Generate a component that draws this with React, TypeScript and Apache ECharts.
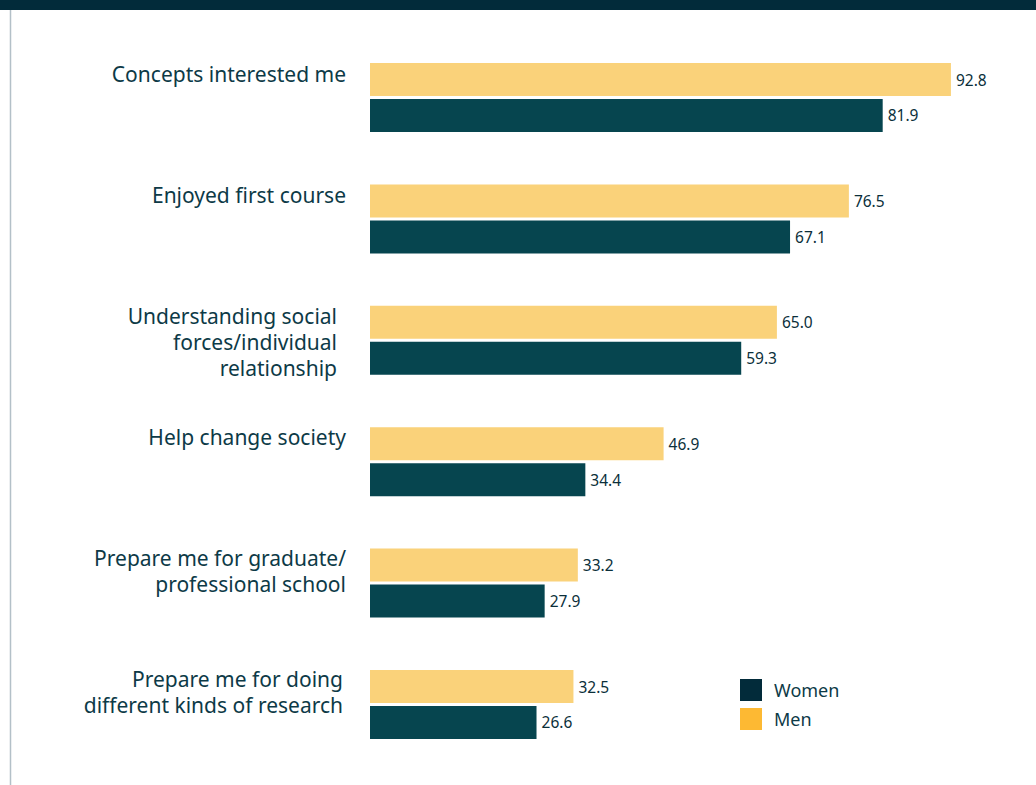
import React, { useEffect, useRef } from "react";
import * as echarts from "echarts";

const categories = [
  "Concepts interested me",
  "Enjoyed first course",
  "Understanding social\nforces/individual\nrelationship",
  "Help change society",
  "Prepare me for graduate/\nprofessional school",
  "Prepare me for doing\ndifferent kinds of research",
];
const menValues = [92.8, 76.5, 65.0, 46.9, 33.2, 32.5];
const womenValues = [81.9, 67.1, 59.3, 34.4, 27.9, 26.6];

const TEXT = "#0D3A47";
const FONT = "'Noto Sans', 'Open Sans', sans-serif";

export default function App() {
  const ref = useRef<HTMLDivElement>(null);
  useEffect(() => {
    if (!ref.current) return;
    const chart = echarts.init(ref.current, undefined, { renderer: "svg" });
    const gridTop = 36.8;
    const gridH = 728.4;
    const labelStyle = {
      show: true,
      position: "right",
      distance: 5,
      fontSize: 15.5,
      color: "#0B2F3A",
      fontFamily: FONT,
      formatter: (p: any) => Number(p.value).toFixed(1),
    };
    chart.setOption({
      animation: false,
      textStyle: { fontFamily: FONT },
      graphic: [
        { type: "rect", shape: { x: 0, y: 0, width: 1036, height: 10 }, style: { fill: "#022B3A" } },
        { type: "line", shape: { x1: 10.5, y1: 10, x2: 10.5, y2: 785 }, style: { stroke: "#B3C0C8", lineWidth: 1.5 } },
      ],
      legend: {
        orient: "vertical",
        left: 740,
        top: 679,
        padding: 0,
        itemWidth: 22,
        itemHeight: 22,
        itemGap: 7,
        icon: "rect",
        textStyle: { fontSize: 18, color: TEXT, fontFamily: FONT, padding: [0, 0, 0, 7], lineHeight: 22 },
        data: [
          { name: "Women", itemStyle: { color: "#022B3A" } },
          { name: "Men", itemStyle: { color: "#FDB933" } },
        ],
      },
      grid: [
        { left: 370, width: 626, top: gridTop, height: gridH, containLabel: false },
        { left: 370, width: 626, top: -2, height: gridH, containLabel: false },
      ],
      xAxis: [
        { type: "value", min: 0, max: 100, show: false, gridIndex: 0 },
        { type: "value", min: 0, max: 100, show: false, gridIndex: 1 },
      ],
      yAxis: [
        {
          type: "category",
          data: categories,
          inverse: true,
          gridIndex: 0,
          axisLine: { show: false },
          axisTick: { show: false },
          axisLabel: { show: false },
          splitLine: { show: false },
        },
        {
          type: "category",
          data: categories,
          inverse: true,
          gridIndex: 1,
          axisLine: { show: false },
          axisTick: { show: false },
          splitLine: { show: false },
          axisLabel: {
            show: true,
            margin: 24,
            align: "right",
            verticalAlign: "top",
            fontSize: 21,
            lineHeight: 26,
            color: TEXT,
            fontFamily: FONT,
            formatter: (v: string) =>
              v.indexOf("relationship") >= 0
                ? v.split("\n").map((l) => "{r|" + l + "}").join("\n")
                : v.indexOf("research") >= 0
                ? v.split("\n").map((l) => "{s|" + l + "}").join("\n")
                : v,
            rich: {
              r: { fontSize: 21, lineHeight: 26, color: TEXT, fontFamily: FONT, padding: [0, 9, 0, 0] },
              s: { fontSize: 21, lineHeight: 26, color: TEXT, fontFamily: FONT, padding: [0, 3, 0, 0] },
            },
          },
        },
      ],
      series: [
        {
          name: "Men",
          type: "bar",
          xAxisIndex: 0,
          yAxisIndex: 0,
          data: menValues,
          barWidth: 33,
          barGap: "9%",
          itemStyle: { color: "#FAD27A" },
          label: labelStyle,
        },
        {
          name: "Women",
          type: "bar",
          xAxisIndex: 0,
          yAxisIndex: 0,
          data: womenValues,
          barWidth: 33,
          barGap: "9%",
          itemStyle: { color: "#06454F" },
          label: labelStyle,
        },
      ],
    });
    return () => chart.dispose();
  }, []);
  return (
    <div
      ref={ref}
      style={{ position: "absolute", left: 0, top: 0, width: 1036, height: 785, background: "#ffffff" }}
    />
  );
}
